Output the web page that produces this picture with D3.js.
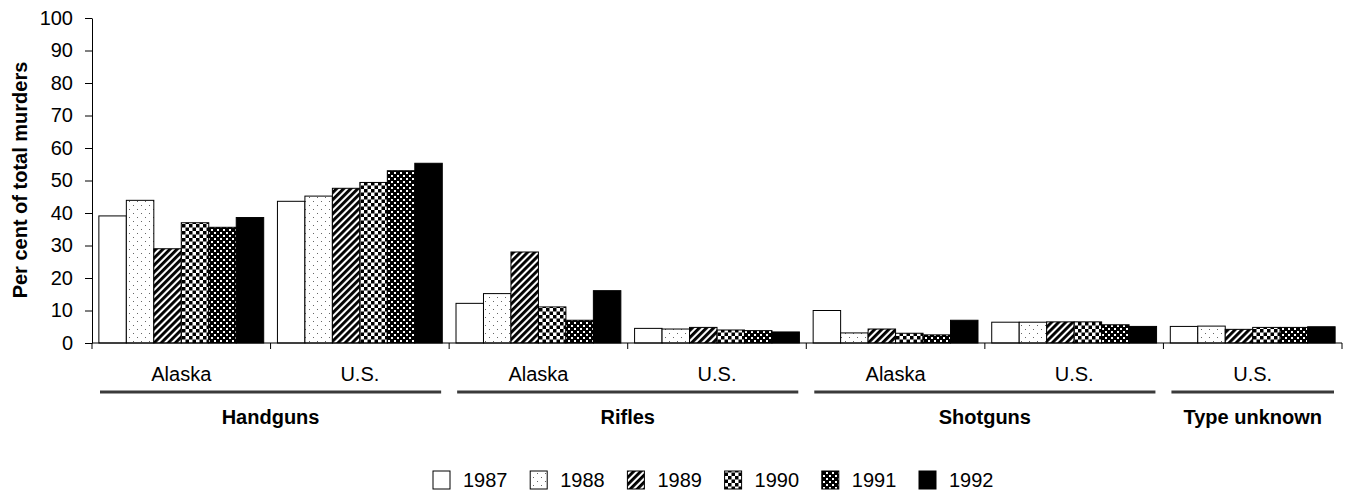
<!DOCTYPE html>
<html><head><meta charset="utf-8">
<script src="https://cdn.jsdelivr.net/npm/d3@7"></script>
<style>body{margin:0;background:#fff}svg{display:block}text{font-family:"Liberation Sans",Arial,sans-serif;fill:#000}</style>
</head><body>
<svg id="c" width="1345" height="490"></svg>
<script>
const years = ["1987","1988","1989","1990","1991","1992"];
const weaponTypes = ["Handguns","Rifles","Shotguns","Type unknown"];
const regions = [["Alaska","U.S."],["Alaska","U.S."],["Alaska","U.S."],["U.S."]];
const v1987 = [39.1, 43.6, 12.2, 4.5, 10.0, 6.4, 5.1];
const v1988 = [43.9, 45.2, 15.2, 4.3, 3.1, 6.4, 5.2];
const v1989 = [29.0, 47.6, 28.0, 4.8, 4.3, 6.5, 4.2];
const v1990 = [37.0, 49.4, 11.1, 4.0, 3.0, 6.5, 4.8];
const v1991 = [35.6, 53.0, 7.0, 3.8, 2.5, 5.6, 4.8];
const v1992 = [38.6, 55.3, 16.1, 3.4, 7.0, 5.1, 5.0];
const yTicks = [0,10,20,30,40,50,60,70,80,90,100];

const series = [v1987,v1988,v1989,v1990,v1991,v1992];
const subgroups = [];
regions.forEach((rs,gi)=>rs.forEach(r=>subgroups.push({id:weaponTypes[gi]+"|"+r, region:r, group:gi})));

const FS = "20px";
const svg = d3.select("#c");
const defs = svg.append("defs");
function pat(id,w,h){return defs.append("pattern").attr("id",id).attr("patternUnits","userSpaceOnUse").attr("width",w).attr("height",h);}
let p;
p = pat("p1987",4,4); p.append("rect").attr("width",4).attr("height",4).attr("fill","#fff");
p = pat("p1988",8,8); p.append("rect").attr("width",8).attr("height",8).attr("fill","#fff");
p.append("rect").attr("x",1).attr("y",1).attr("width",1).attr("height",1).attr("fill","#666");
p.append("rect").attr("x",5).attr("y",5).attr("width",1).attr("height",1).attr("fill","#666");
p = pat("p1989",5,5).attr("patternTransform","rotate(45)");
p.append("rect").attr("width",5).attr("height",5).attr("fill","#fff");
p.append("rect").attr("width",2.9).attr("height",5).attr("fill","#000");
p = pat("p1990",7,7); p.append("rect").attr("width",7).attr("height",7).attr("fill","#fff");
p.append("rect").attr("width",3.5).attr("height",3.5).attr("fill","#000");
p.append("rect").attr("x",3.5).attr("y",3.5).attr("width",3.5).attr("height",3.5).attr("fill","#000");
p = pat("p1991",6,6); p.append("rect").attr("width",6).attr("height",6).attr("fill","#000");
p.append("rect").attr("x",1).attr("y",1).attr("width",2).attr("height",2).attr("fill","#fff");
p.append("rect").attr("x",4).attr("y",4).attr("width",2).attr("height",2).attr("fill","#fff");
p = pat("p1992",4,4); p.append("rect").attr("width",4).attr("height",4).attr("fill","#000");

const x0 = d3.scaleBand().domain(subgroups.map(d=>d.id)).range([92,1342]).padding(0);
const x1 = d3.scaleBand().domain(years).range([0,x0.bandwidth()]).paddingInner(0).paddingOuter(0.25);
const y = d3.scaleLinear().domain([0,100]).range([343,18]);

// bars
const g = svg.append("g");
subgroups.forEach((sg,si)=>{
  years.forEach((yr,yi)=>{
    const v = series[yi][si];
    g.append("rect")
      .attr("x", x0(sg.id)+x1(yr))
      .attr("y", y(v))
      .attr("width", x1.bandwidth())
      .attr("height", y(0)-y(v))
      .attr("fill", `url(#p${yr})`)
      .attr("stroke","#000").attr("stroke-width",1);
  });
});

// y axis
const ya = svg.append("g").attr("transform","translate(92,0)")
  .call(d3.axisLeft(y).tickValues(yTicks).tickSize(7).tickPadding(12).tickSizeOuter(0));
ya.select(".domain").attr("stroke","#000");
ya.selectAll(".tick line").attr("stroke","#000");
ya.selectAll(".tick text").style("font-size",FS).style("font-family","Liberation Sans, Arial, sans-serif");

// x axis line with ticks at subgroup boundaries
svg.append("line").attr("x1",92).attr("x2",1342).attr("y1",y(0)).attr("y2",y(0)).attr("stroke","#000");
const bounds = subgroups.map(d=>x0(d.id)).concat([x0.range()[1]]);
bounds.forEach(b=>{
  svg.append("line").attr("x1",b).attr("x2",b).attr("y1",y(0)).attr("y2",y(0)+6).attr("stroke","#000");
});

// sub labels
subgroups.forEach(sg=>{
  svg.append("text").attr("x",x0(sg.id)+x0.bandwidth()/2).attr("y",381)
    .attr("text-anchor","middle").style("font-size",FS).text(sg.region);
});

// group lines and labels
let idx = 0;
weaponTypes.forEach((w,gi)=>{
  const first = subgroups[idx], last = subgroups[idx+regions[gi].length-1];
  const gx0 = x0(first.id), gx1 = x0(last.id)+x0.bandwidth();
  idx += regions[gi].length;
  svg.append("line").attr("x1",gx0+8).attr("x2",Math.min(gx1-8,1341)).attr("y1",392).attr("y2",392)
    .attr("stroke","#3a3a3a").attr("stroke-width",3);
  svg.append("text").attr("x",(gx0+gx1)/2).attr("y",423.5).attr("text-anchor","middle")
    .style("font-size",FS).style("font-weight","bold").text(w);
});

// y label
svg.append("text").attr("transform","translate(27,180) rotate(-90)").attr("text-anchor","middle")
  .style("font-size","20px").style("font-weight","bold").text("Per cent of total murders");

// legend
const lx = d3.scalePoint().domain(years).range([433,919]);
years.forEach(yr=>{
  svg.append("rect").attr("x",lx(yr)).attr("y",471).attr("width",17).attr("height",18)
    .attr("fill",`url(#p${yr})`).attr("stroke","#000");
  svg.append("text").attr("x",lx(yr)+30).attr("y",487).style("font-size",FS).text(yr);
});
</script>
</body></html>
